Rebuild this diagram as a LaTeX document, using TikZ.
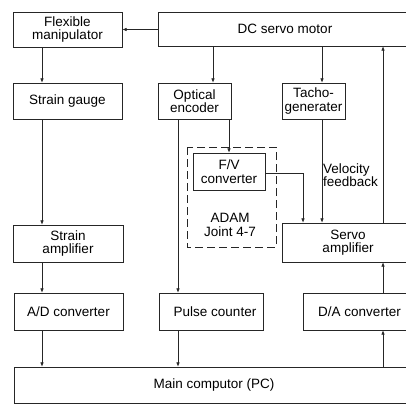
\documentclass[tikz,border=0pt]{standalone}
\usepackage{fontspec}
\setmainfont{Liberation Sans}
\usepackage{tikz}
\usetikzlibrary{calc,shapes,positioning}
\usetikzlibrary{arrows.meta}
\tikzset{>={Latex[width=1.2mm,length=1.5mm]}}

\begin{document}
\begin{tikzpicture}[x=1pt,y=-1pt]
        \tikzstyle{bnode} = [draw=black!85, line width=0.6pt, rectangle, inner sep = 1pt, align=center, font=\fontsize{13.5}{13.5}\selectfont]
        \tikzstyle{link} = [->, line width=0.6pt, black!85]

        \useasboundingbox (0,0) rectangle (406,406);
        \clip (0,0) rectangle (406,406);

        \node[bnode, minimum width=109, minimum height=35] (flex) at (67.5,29.5) {Flexible\\manipulator};
        \node[bnode, minimum width=254, minimum height=34] (motor) at (285,29) {DC servo motor};
        \node[bnode, minimum width=109, minimum height=36] (gauge) at (67.5,101) {Strain gauge};
        \node[bnode, minimum width=73, minimum height=36] (enc) at (194.5,101) {Optical\\encoder};
        \node[bnode, minimum width=63, minimum height=36] (tacho) at (313.5,101) {Tacho-\\generater};
        \node[bnode, minimum width=72, minimum height=37] (fv) at (229,171.5) {F/V\\converter};
        \node[bnode, minimum width=110, minimum height=37] (samp) at (68,243.5) {Strain\\amplifier};
        \node[bnode, minimum width=132, minimum height=39] (servo) at (348,242.5) {Servo\\amplifier};
        \node[bnode, minimum width=109, minimum height=37] (ad) at (68.5,311.5) {A/D converter};
        \node[bnode, minimum width=104, minimum height=37] (pulse) at (211,311.5) {\hspace{8pt}Pulse counter};
        \node[bnode, minimum width=111, minimum height=37] (da) at (358.5,311.5) {\hspace{2pt}D/A converter};
        \node[bnode, minimum width=400, minimum height=36] (pc) at (214,385) {Main computor (PC)};

        % ADAM board
        \draw[dash pattern=on 8pt off 4pt, line width=0.6pt, black!85] (187,147) rectangle (276,247);
        \node[align=center, font=\fontsize{13.5}{13.5}\selectfont] (adam) at (230,225) {ADAM\\Joint 4-7};

        % columns of the connectors
        \coordinate (xa) at (42,0);
        \coordinate (xb) at (178,0);
        \coordinate (xc) at (213,0);
        \coordinate (xd) at (303,0);
        \coordinate (xe) at (322,0);
        \coordinate (xf) at (383,0);

        \draw[link] (motor.west |- flex.east) -- (flex.east);
        \draw[link] (flex.south -| xa) -- (gauge.north -| xa);
        \draw[link] (gauge.south -| xa) -- (samp.north -| xa);
        \draw[link] (samp.south -| xa) -- (ad.north -| xa);
        \draw[link] (ad.south -| xa) -- (pc.north -| xa);
        \draw[link] (motor.south -| xc) -- (enc.north -| xc);
        \draw[link] (motor.south -| xe) -- (tacho.north -| xe);
        \draw[link] (enc.south -| xb) -- (pulse.north -| xb);
        \draw[link] (pulse.south -| xb) -- (pc.north -| xb);
        \draw[link] (enc.south -| fv.north) -- (fv.north);
        \draw[link] ($(fv.east)+(0,1.5)$) -| (servo.north -| xd);
        \draw[link] (tacho.south -| xe) -- (servo.north -| xe);
        \node[anchor=west, align=left, inner sep=1pt, font=\fontsize{13.5}{13.5}\selectfont] (vel) at (322,175) {Velocity\\feedback};
        \draw[link] (servo.north -| xf) -- (motor.south -| xf);
        \draw[link] (pc.north -| xf) -- (da.south -| xf);
        \draw[link] (da.north -| xf) -- (servo.south -| xf);
\end{tikzpicture}
\end{document}
